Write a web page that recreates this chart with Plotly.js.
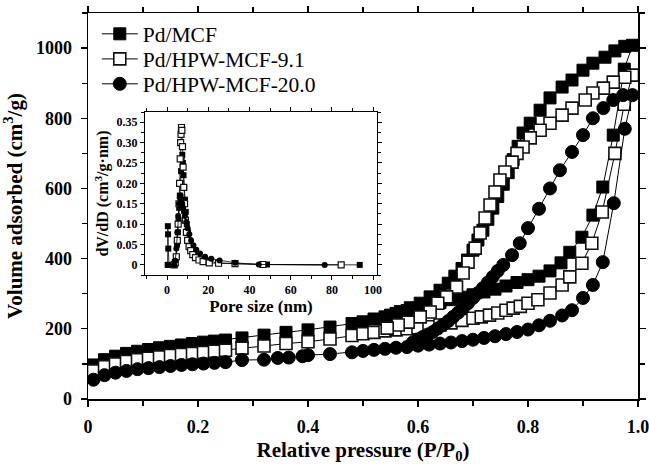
<!DOCTYPE html>
<html>
<head>
<meta charset="utf-8">
<script src="https://cdn.plot.ly/plotly-3.0.1.min.js"></script>
<style>html,body{margin:0;padding:0;background:#fff;}#chart{width:649px;height:464px;}</style>
</head>
<body>
<div id="chart"></div>
<script>
// ---------- main isotherms: Relative pressure (P/P0) vs Volume adsorbed ----------
var seriesNames = ['Pd/MCF', 'Pd/HPW-MCF-9.1', 'Pd/HPW-MCF-20.0'];

// Pd/MCF adsorption + desorption
var mcfAdsP = [0.01,0.03,0.05,0.07,0.09,0.11,0.13,0.15,0.17,0.19,0.21,0.23,0.25,0.28,0.32,0.36,0.40,0.44,0.48,0.50,0.52,0.54,0.56,0.58,0.60,0.62,0.64,0.66,0.68,0.70,0.72,0.74,0.76,0.78,0.80,0.82,0.84,0.86,0.876,0.898,0.918,0.936,0.955,0.975,0.99];
var mcfAdsV = [97,112,122,130,136,141,146,150,154,158,162,165,168,174,182,190,197,205,215,220,228,234,244,252,260,267,275,283,290,297,305,313,322,332,340,350,365,388,418,461,524,604,752,940,1008];
var mcfDesP = [0.976,0.958,0.94,0.918,0.9,0.88,0.862,0.84,0.822,0.804,0.791,0.782,0.773,0.764,0.755,0.745,0.736,0.727,0.718,0.709,0.70,0.69,0.68,0.667,0.655,0.64,0.622,0.604,0.586,0.568,0.55];
var mcfDesV = [1005,992,974,957,937,909,889,858,823,786,758,720,682,645,612,577,544,512,481,453,424,396,372,350,330,310,291,273,260,249,239];

// Pd/HPW-MCF-9.1 adsorption + desorption
var h91AdsP = [0.01,0.03,0.05,0.07,0.09,0.11,0.13,0.15,0.17,0.19,0.21,0.23,0.25,0.28,0.32,0.36,0.40,0.44,0.48,0.50,0.52,0.54,0.56,0.58,0.60,0.62,0.64,0.66,0.68,0.70,0.715,0.73,0.745,0.76,0.773,0.786,0.80,0.818,0.84,0.862,0.876,0.898,0.916,0.935,0.958,0.975,0.99];
var h91AdsV = [80,92,100,107,112,116,120,124,127,130,133,136,139,145,151,158,163,171,181,186,190,194,197,200,203,206,211,217,224,230,234,239,245,253,259,264,273,283,302,325,348,387,444,533,700,840,923];
var h91DesP = [0.976,0.955,0.937,0.918,0.904,0.88,0.862,0.84,0.822,0.804,0.791,0.78,0.771,0.758,0.749,0.74,0.731,0.722,0.713,0.704,0.691,0.682,0.67,0.652,0.636,0.622,0.604,0.582,0.564,0.544];
var h91DesV = [917,903,886,872,852,829,809,786,766,744,718,700,675,647,624,590,553,516,473,430,390,359,319,291,273,248,234,219,211,202];

// Pd/HPW-MCF-20.0 adsorption + desorption
var h20AdsP = [0.01,0.03,0.05,0.07,0.09,0.11,0.13,0.15,0.17,0.19,0.21,0.23,0.25,0.28,0.32,0.345,0.365,0.39,0.40,0.44,0.48,0.50,0.52,0.54,0.56,0.58,0.60,0.62,0.64,0.66,0.68,0.70,0.72,0.74,0.76,0.78,0.80,0.82,0.84,0.862,0.88,0.90,0.918,0.936,0.956,0.976,0.99];
var h20AdsV = [55,68,75,80,85,88,91,94,97,99,101,103,105,111,112,117,118,122,125,128,133,137,140,143,146,148,152,155,158,161,165,169,174,179,185,191,198,210,223,238,253,288,325,390,558,770,866];
var h20DesP = [0.973,0.955,0.937,0.918,0.9,0.88,0.858,0.84,0.82,0.80,0.785,0.771,0.755,0.745,0.736,0.727,0.718,0.709,0.70,0.691,0.682,0.673,0.664,0.655,0.645,0.636,0.627,0.618,0.609,0.60,0.591];
var h20DesV = [866,852,829,800,752,704,652,600,542,487,444,410,382,365,348,332,316,302,288,273,259,246,234,222,211,201,191,184,177,170,162];

var mainXTickVals = [0,0.2,0.4,0.6,0.8,1.0];
var mainXTickText = ['0','0.2','0.4','0.6','0.8','1.0'];
var mainYTickVals = [0,200,400,600,800,1000];
var mainYTickText = ['0','200','400','600','800','1000'];

// ---------- inset: pore size distribution ----------
var psdMcfX = [0.3,0.4,0.5,0.6,1.0,3.4,4.0,4.5,4.9,5.3,5.6,5.9,6.2,6.5,6.8,7.1,7.4,7.7,8.0,8.3,8.7,9.1,9.6,10.2,10.9,11.8,13.0,14.6,16.8,20.0,25.0,33.0,48.5,93.5];
var psdMcfY = [0,0.095,0.075,0.04,0,0,0.005,0.02,0.05,0.08,0.11,0.14,0.17,0.2,0.23,0.26,0.27,0.25,0.22,0.19,0.16,0.13,0.1,0.08,0.06,0.045,0.032,0.022,0.014,0.009,0.005,0.003,0.001,0];
var psdH91X = [3.5,4.0,4.5,5.0,5.4,5.8,6.1,6.4,6.6,6.8,7.0,7.2,7.5,7.8,8.1,8.5,8.9,9.4,10.0,10.7,11.5,12.5,13.8,15.5,17.5,20.5,25.0,33.0,46.5,84.5];
var psdH91Y = [0,0.005,0.02,0.06,0.1,0.15,0.2,0.26,0.3,0.32,0.337,0.33,0.29,0.24,0.19,0.15,0.11,0.08,0.06,0.045,0.035,0.025,0.018,0.012,0.008,0.005,0.004,0.003,0.001,0];
var psdH20X = [3.5,4.0,4.5,5.0,5.4,5.8,6.2,6.6,7.0,7.4,7.8,8.2,8.7,9.3,10.0,10.8,11.7,12.8,14.2,16.0,18.5,21.5,25.5,33.0,44.5,76.5];
var psdH20Y = [0,0.01,0.04,0.08,0.12,0.15,0.165,0.17,0.16,0.15,0.14,0.13,0.12,0.105,0.09,0.075,0.06,0.048,0.037,0.028,0.02,0.015,0.011,0.005,0.001,0];

var insetXTickVals = [0,20,40,60,80,100];
var insetYTickVals = [0,0.05,0.1,0.15,0.2,0.25,0.3,0.35];
var insetYTickText = ['0','0.05','0.10','0.15','0.20','0.25','0.30','0.35'];

// ---------- build ----------
var serif = 'Liberation Serif';
var lineStyle = {color: '#000', width: 1};
var mk = [
  {symbol: 'square', size: 12, color: '#000', line: {color: '#000', width: 1}},
  {symbol: 'square', size: 12, color: '#fff', line: {color: '#111', width: 1.6}},
  {symbol: 'circle', size: 13, color: '#000', line: {color: '#000', width: 1}}
];
var mkInset = [
  {symbol: 'square', size: 6, color: '#000'},
  {symbol: 'square', size: 6, color: '#fff', line: {color: '#111', width: 1.2}},
  {symbol: 'circle', size: 6, color: '#000'}
];
var legendIds = ['legend', 'legend2', 'legend3'];

var mainP = [mcfAdsP.concat(mcfDesP), h91AdsP.concat(h91DesP), h20AdsP.concat(h20DesP)];
var mainV = [mcfAdsV.concat(mcfDesV), h91AdsV.concat(h91DesV), h20AdsV.concat(h20DesV)];
var psdX = [psdMcfX, psdH91X, psdH20X];
var psdY = [psdMcfY, psdH91Y, psdH20Y];

var traces = [];
for (var i = 0; i < 3; i++) {
  traces.push({
    type: 'scatter', mode: 'lines+markers', name: seriesNames[i],
    x: mainP[i], y: mainV[i], xaxis: 'x', yaxis: 'y', legend: legendIds[i],
    line: lineStyle, marker: mk[i]
  });
}
for (var j = 0; j < 3; j++) {
  traces.push({
    type: 'scatter', mode: 'lines+markers', name: seriesNames[j], showlegend: false,
    x: psdX[j], y: psdY[j], xaxis: 'x2', yaxis: 'y2',
    line: {color: '#000', width: 0.8}, marker: mkInset[j]
  });
}

var tickFontMain = {family: serif, size: 18, color: '#000', weight: 'bold'};
var tickFontInset = {family: serif, size: 12, color: '#000', weight: 'bold'};

function legendAt(yPaper) {
  return {
    x: 0.016, y: yPaper, xanchor: 'left', yanchor: 'middle',
    bgcolor: 'rgba(0,0,0,0)', borderwidth: 0, itemwidth: 36,
    font: {family: serif, size: 21.5, color: '#000'}
  };
}

var layout = {
  width: 649, height: 464,
  margin: {l: 88, r: 11, t: 13, b: 65},
  paper_bgcolor: '#fff', plot_bgcolor: '#fff',
  showlegend: true,
  legend: legendAt(0.946),
  legend2: legendAt(0.881),
  legend3: legendAt(0.8165),
  xaxis: {
    domain: [0, 1], range: [0, 1], anchor: 'y',
    tickmode: 'array', tickvals: mainXTickVals, ticktext: mainXTickText,
    ticks: 'outside', ticklen: 6, tickwidth: 1.2, tickcolor: '#000',
    minor: {dtick: 0.1, ticks: 'outside', ticklen: 5, tickwidth: 1.2, tickcolor: '#000'},
    showline: true, linecolor: '#000', linewidth: 1.5, mirror: 'allticks',
    showgrid: false, zeroline: false, tickfont: tickFontMain, ticklabelstandoff: 5,
    ticklabeloverflow: 'allow',
    title: {text: 'Relative pressure (P/P<sub>0</sub>)', font: {family: serif, size: 21, color: '#000', weight: 'bold'}, standoff: 13}
  },
  yaxis: {
    domain: [0, 1], range: [0, 1100], anchor: 'x',
    tickmode: 'array', tickvals: mainYTickVals, ticktext: mainYTickText,
    ticks: 'outside', ticklen: 6, tickwidth: 1.2, tickcolor: '#000',
    minor: {dtick: 100, ticks: 'outside', ticklen: 5, tickwidth: 1.2, tickcolor: '#000'},
    showline: true, linecolor: '#000', linewidth: 1.5, mirror: 'allticks',
    showgrid: false, zeroline: false, tickfont: tickFontMain, ticklabelstandoff: 5,
    ticklabeloverflow: 'allow',
    title: {text: 'Volume adsorbed (cm<sup>3</sup>/g)', font: {family: serif, size: 21, color: '#000', weight: 'bold'}, standoff: 9}
  },
  xaxis2: {
    domain: [0.1036, 0.5255], range: [-10.7, 101.9], anchor: 'y2',
    tickmode: 'array', tickvals: insetXTickVals,
    ticks: 'outside', ticklen: 4, tickwidth: 1, tickcolor: '#000',
    minor: {dtick: 10, ticks: 'outside', ticklen: 3, tickwidth: 1, tickcolor: '#000'},
    showline: true, linecolor: '#000', linewidth: 1, mirror: 'allticks',
    showgrid: false, zeroline: false, tickfont: tickFontInset,
    title: {text: 'Pore size (nm)', font: {family: serif, size: 17, color: '#000', weight: 'bold'}, standoff: 0}
  },
  yaxis2: {
    domain: [0.321, 0.7435], range: [-0.025, 0.375], anchor: 'x2',
    tickmode: 'array', tickvals: insetYTickVals, ticktext: insetYTickText,
    ticks: 'outside', ticklen: 4, tickwidth: 1, tickcolor: '#000',
    minor: {dtick: 0.025, ticks: 'outside', ticklen: 3, tickwidth: 1, tickcolor: '#000'},
    showline: true, linecolor: '#000', linewidth: 1, mirror: 'allticks',
    showgrid: false, zeroline: false, tickfont: tickFontInset,
    title: {text: 'dV/dD (cm<sup>3</sup>/g·nm)', font: {family: serif, size: 16, color: '#000', weight: 'bold'}, standoff: 3}
  }
};

Plotly.newPlot('chart', traces, layout, {displayModeBar: false, staticPlot: true});
</script>
</body>
</html>
